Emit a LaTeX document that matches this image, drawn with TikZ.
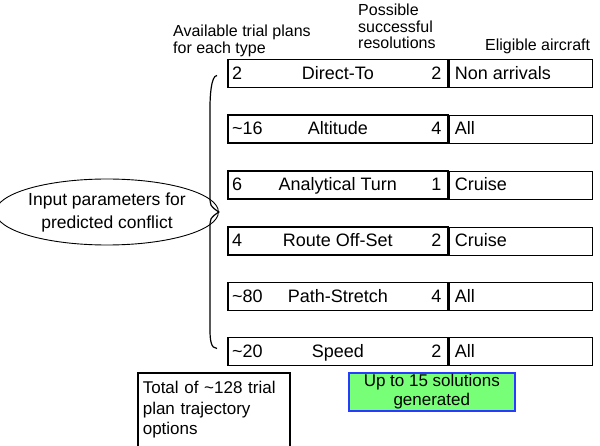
\documentclass[tikz,border=0pt]{standalone}
\usepackage{fontspec}
\setmainfont{Liberation Sans}
\usetikzlibrary{positioning,shapes.geometric}
\definecolor{solgreen}{RGB}{119,255,119}
\definecolor{solblue}{RGB}{40,60,255}
\tikzset{
  plantxt/.style={font=\fontsize{18}{20}\selectfont, inner sep=0pt, text height=12.5pt, text depth=1pt},
  planbox/.style={draw, line width=1.6pt, minimum width=220pt, minimum height=28pt, inner sep=0pt, anchor=west},
  eligbox/.style={draw, line width=0.8pt, minimum width=143pt, minimum height=28pt, inner sep=0pt, anchor=west},
  headtxt/.style={font=\fontsize{16}{16.5}\selectfont, align=left, anchor=north west, inner sep=0pt},
}
\begin{document}
\begin{tikzpicture}[x=1pt, y=-1pt]
	\useasboundingbox (0,0) rectangle (600,446);

	% column headings
	\node[headtxt] (hplans) at (173,25) {Available trial plans\\for each type};
	\node[headtxt] (hres) at (358,4) {Possible\\successful\\resolutions};
	\node[headtxt] (helig) at (485,39) {Eligible aircraft};

	% one row per trial plan type
	\foreach \y/\id/\num/\name/\res/\elig in {73.5/dt/2/Direct-To/2/Non arrivals,
		129/alt/\textasciitilde16/Altitude/4/All,
		185/at/6/Analytical Turn/1/Cruise,
		241/ros/4/Route Off-Set/2/Cruise,
		296.5/ps/\textasciitilde80/Path-Stretch/4/All,
		351.5/spd/\textasciitilde20/Speed/2/All}{
		\node[planbox, plantxt] (\id) at (227,\y) {\name};
		\node[eligbox] (\id-e) at (\id.east) {};
		\node[plantxt, anchor=west] (\id-n) at ([xshift=5pt]\id.west) {\num};
		\node[plantxt, anchor=east] (\id-r) at ([xshift=-7pt]\id.east) {\res};
		\node[plantxt, anchor=west] (\id-el) at ([xshift=6pt]\id-e.west) {\elig};
	}

	% input ellipse and brace
	\node[draw, ellipse, line width=0.9pt, minimum width=201pt, minimum height=66pt, inner sep=0pt,
		align=center, font=\fontsize{17.5}{23}\selectfont] (input) at (107,212)
		{Input parameters for\\predicted conflict};
	\draw[line width=1.2pt] ([xshift=-10pt,yshift=-2pt]dt.west) .. controls ([xshift=-16pt,yshift=-2pt]dt.west) and (210,97) .. (210,107)
		-- (210,195) .. controls (210,206) .. (input.east)
		.. controls (210,218) .. (210,229) -- (210,330)
		.. controls (210,340) and ([xshift=-16pt,yshift=3pt]spd.west) .. ([xshift=-10pt,yshift=3pt]spd.west);

	% totals
	\node[draw, line width=1.6pt, minimum width=152pt, minimum height=74pt, anchor=north west,
		align=left, font=\fontsize{17}{20.5}\selectfont, inner xsep=5pt, text width=142pt] (total) at (137,372)
		{Total of \textasciitilde128 trial\\plan trajectory\\options};
	\node[draw=solblue, fill=solgreen, line width=1.6pt, minimum width=166pt, minimum height=38pt,
		anchor=north west, align=center, font=\fontsize{17}{19}\selectfont, inner sep=0pt] (sols) at (348,372)
		{Up to 15 solutions\\generated};
\end{tikzpicture}
\end{document}
